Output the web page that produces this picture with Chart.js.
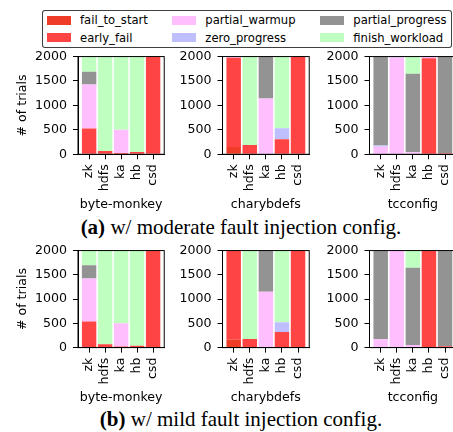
<!DOCTYPE html>
<html>
<head>
<meta charset="utf-8">
<script src="https://cdn.jsdelivr.net/npm/chart.js@4.4.1/dist/chart.umd.min.js"></script>
<style>
  html, body { margin: 0; padding: 0; background: #fff; overflow: hidden; }
  body { width: 453px; height: 432px; position: relative; font-family: 'DejaVu Sans', sans-serif; }
  canvas { position: absolute; }
  .box { position: absolute; left: 42px; top: 10px; width: 410px; height: 38px; box-sizing: border-box;
         border: 1px solid rgba(0,0,0,0.75); border-radius: 3px; background: #fff; }
  .sw { position: absolute; width: 24.3px; height: 9.3px; }
  .lt { position: absolute; font-size: 11.6px; line-height: 14px; color: #000; white-space: nowrap; }
  .cap { position: absolute; left: 241px; transform: translateX(-50%); font-family: 'Liberation Serif', serif;
         font-size: 21px; line-height: 24px; white-space: nowrap; color: #000; }
</style>
</head>
<body>
<div class="box"></div>
<div class="cap" style="top:215px"><b>(a)</b> w/ moderate fault injection config.</div>
<div class="cap" style="top:407px"><b>(b)</b> w/ mild fault injection config.</div>
<script>
// categories
const systems = ['zk', 'hdfs', 'ka', 'hb', 'csd'];
const tools = ['byte-monkey', 'charybdefs', 'tcconfig'];
const outcomes = ['fail_to_start', 'early_fail', 'partial_warmup', 'zero_progress', 'partial_progress', 'finish_workload'];
const outcomeColors = ['#ee3c26', '#ff4444', '#ffbfff', '#bfbfff', '#939393', '#bfffbf'];
const yTicks = [0, 500, 1000, 1500, 2000];

// rows follow outcomes, columns follow systems
// (a) moderate fault injection config
const modByteMonkey = [
  [0, 0, 0, 0, 0],
  [530, 70, 25, 45, 2000],
  [900, 0, 475, 0, 0],
  [0, 0, 0, 0, 0],
  [260, 0, 0, 0, 0],
  [310, 1930, 1500, 1955, 0]
];
const modCharybdefs = [
  [150, 0, 0, 0, 0],
  [1825, 190, 0, 310, 2000],
  [25, 0, 1140, 0, 0],
  [0, 0, 0, 225, 0],
  [0, 0, 860, 0, 0],
  [0, 1810, 0, 1465, 0]
];
const modTcconfig = [
  [0, 0, 0, 0, 0],
  [0, 0, 0, 1965, 20],
  [155, 1980, 40, 35, 0],
  [25, 20, 0, 0, 0],
  [1820, 0, 1610, 0, 1980],
  [0, 0, 350, 0, 0]
];
// (b) mild fault injection config
const mildByteMonkey = [
  [0, 0, 0, 0, 0],
  [540, 70, 25, 40, 2000],
  [885, 0, 475, 0, 0],
  [0, 0, 0, 0, 0],
  [270, 0, 0, 0, 0],
  [305, 1930, 1500, 1960, 0]
];
const mildCharybdefs = [
  [160, 0, 0, 0, 0],
  [1840, 175, 0, 320, 2000],
  [0, 0, 1150, 0, 0],
  [0, 0, 0, 200, 0],
  [0, 0, 850, 0, 0],
  [0, 1825, 0, 1480, 0]
];
const mildTcconfig = [
  [0, 0, 0, 0, 0],
  [0, 0, 0, 2000, 30],
  [170, 2000, 55, 0, 0],
  [0, 0, 0, 0, 0],
  [1830, 0, 1590, 0, 1970],
  [0, 0, 355, 0, 0]
];

const panels = [
  [modByteMonkey, modCharybdefs, modTcconfig],
  [mildByteMonkey, mildCharybdefs, mildTcconfig]
];

// legend (html)
const swX = [46.7, 171.7, 320], txX = [80, 205.3, 353.3], rowY = [20.3, 37.6];
outcomes.forEach((name, i) => {
  const c = Math.floor(i / 2), r = i % 2;
  const sw = document.createElement('div');
  sw.className = 'sw';
  sw.style.left = swX[c] + 'px';
  sw.style.top = (rowY[r] - 4.65) + 'px';
  sw.style.background = outcomeColors[i];
  document.body.appendChild(sw);
  const t = document.createElement('div');
  t.className = 'lt';
  t.style.left = txX[c] + 'px';
  t.style.top = (rowY[r] - 7) + 'px';
  t.textContent = name;
  document.body.appendChild(t);
});

Chart.defaults.font.family = "'DejaVu Sans', sans-serif";
Chart.defaults.font.size = 12.6;
Chart.defaults.color = '#000';

const spines = {
  id: 'spines',
  afterDatasetsDraw(chart) {
    const { ctx, chartArea: a } = chart;
    ctx.save();
    ctx.strokeStyle = '#000';
    ctx.lineWidth = 1;
    ctx.strokeRect(a.left, a.top, a.right - a.left, a.bottom - a.top);
    ctx.restore();
  }
};

const colLeft = [78, 222.5, 369.5];
const rowTop = [55.7, 249];
const plotW = 90, plotH = 98.6, XH = 57.5;

panels.forEach((row, r) => {
  row.forEach((mat, c) => {
    const yw = c === 0 ? 78 : 45;
    const cx = Math.floor(colLeft[c] - yw);
    const cy = Math.floor(rowTop[r] - 12);
    const W = Math.ceil(colLeft[c] + plotW + 6) - cx;
    const H = Math.ceil(rowTop[r] + plotH + XH + 1) - cy;
    const canvas = document.createElement('canvas');
    canvas.width = W;
    canvas.height = H;
    canvas.style.left = cx + 'px';
    canvas.style.top = cy + 'px';
    canvas.style.width = W + 'px';
    canvas.style.height = H + 'px';
    document.body.appendChild(canvas);

    new Chart(canvas.getContext('2d'), {
      type: 'bar',
      data: {
        datasets: outcomes.map((name, k) => ({
          label: name,
          data: systems.map((s, i) => ({ x: i, y: mat[k][i] })),
          backgroundColor: outcomeColors[k],
          borderWidth: 0,
          categoryPercentage: 1,
          barPercentage: 0.9
        }))
      },
      options: {
        responsive: false,
        animation: false,
        events: [],
        layout: {
          padding: {
            left: colLeft[c] - yw - cx,
            top: rowTop[r] - cy,
            right: cx + W - colLeft[c] - plotW,
            bottom: cy + H - (rowTop[r] + plotH + XH)
          }
        },
        plugins: { legend: { display: false }, tooltip: { enabled: false } },
        scales: {
          x: {
            type: 'linear',
            stacked: true,
            offset: false,
            min: -0.695,
            max: 4.695,
            afterBuildTicks: s => { s.ticks = systems.map((_, i) => ({ value: i })); },
            afterFit: s => { s.height = XH; },
            grid: { drawOnChartArea: false, drawTicks: true, tickLength: 5, color: '#000', offset: false },
            border: { color: '#000', width: 1 },
            ticks: {
              autoSkip: false, minRotation: 90, maxRotation: 90, padding: 5,
              callback: v => systems[v]
            },
            title: { display: true, text: tools[c], padding: { top: 0, bottom: 0 } }
          },
          y: {
            stacked: true,
            min: 0,
            max: 2000,
            afterBuildTicks: s => { s.ticks = yTicks.map(v => ({ value: v })); },
            afterFit: s => { s.width = yw; },
            grid: { drawOnChartArea: false, drawTicks: true, tickLength: 5, color: '#000' },
            border: { color: '#000', width: 1 },
            ticks: { padding: 6, callback: v => String(v) },
            title: { display: c === 0, text: '# of trials', padding: { top: 15.5, bottom: 0 } }
          }
        }
      },
      plugins: [spines]
    });
  });
});
</script>
</body>
</html>
